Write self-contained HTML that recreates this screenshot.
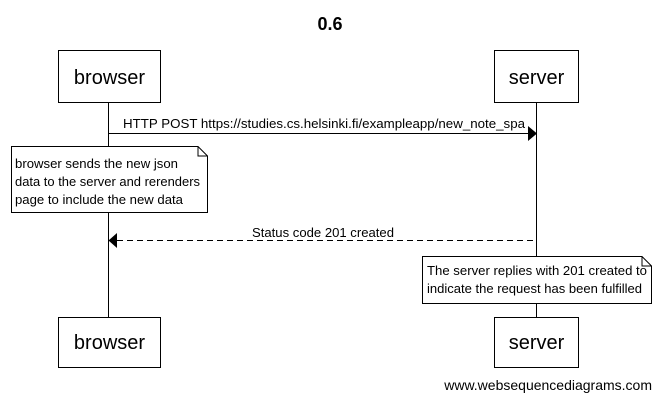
<!DOCTYPE html>
<html><head><meta charset="utf-8"><style>body{margin:0;background:#fff}</style></head><body>
<svg width="661" height="400" xmlns="http://www.w3.org/2000/svg" font-family="Liberation Sans, sans-serif">
<rect width="661" height="400" fill="#fff"/>
<text x="330" y="30" font-size="18" font-weight="bold" text-anchor="middle">0.6</text>
<line x1="108.5" y1="102" x2="108.5" y2="317" stroke="#000"/>
<line x1="536.5" y1="102" x2="536.5" y2="317" stroke="#000"/>
<rect x="58.5" y="50.5" width="102" height="52" fill="#fff" stroke="#000"/>
<text x="109.5" y="84" font-size="20" text-anchor="middle">browser</text>
<rect x="494.5" y="50.5" width="84" height="52" fill="#fff" stroke="#000"/>
<text x="536.5" y="84" font-size="20" text-anchor="middle">server</text>
<rect x="58.5" y="317.5" width="102" height="50" fill="#fff" stroke="#000"/>
<text x="109.5" y="349" font-size="20" text-anchor="middle">browser</text>
<rect x="494.5" y="317.5" width="84" height="50" fill="#fff" stroke="#000"/>
<text x="536.5" y="349" font-size="20" text-anchor="middle">server</text>
<line x1="108.5" y1="133.5" x2="528" y2="133.5" stroke="#000"/>
<polygon points="528,126 537,133.5 528,141" fill="#000"/>
<text x="123" y="128" font-size="13" textLength="402" lengthAdjust="spacingAndGlyphs">HTTP POST https://studies.cs.helsinki.fi/exampleapp/new_note_spa</text>
<path d="M11.5 146.5 H198 L207.5 156 V212.5 H11.5 Z" fill="#fff" stroke="#000"/>
<path d="M198 146.5 V156 H207.5" fill="none" stroke="#000"/>
<text font-size="13"><tspan x="15" y="168" textLength="163" lengthAdjust="spacingAndGlyphs">browser sends the new json</tspan><tspan x="15" y="186" textLength="185" lengthAdjust="spacingAndGlyphs">data to the server and rerenders</tspan><tspan x="15" y="204" textLength="168" lengthAdjust="spacingAndGlyphs">page to include the new data</tspan></text>
<line x1="117" y1="240.5" x2="536.5" y2="240.5" stroke="#000" stroke-dasharray="6,4"/>
<polygon points="117,233 108.5,240.5 117,248" fill="#000"/>
<text x="252" y="237" font-size="13" textLength="142" lengthAdjust="spacingAndGlyphs">Status code 201 created</text>
<path d="M422.5 256.5 H642 L651.5 266 V303.5 H422.5 Z" fill="#fff" stroke="#000"/>
<path d="M642 256.5 V266 H651.5" fill="none" stroke="#000"/>
<text font-size="13"><tspan x="427" y="275" textLength="220" lengthAdjust="spacingAndGlyphs">The server replies with 201 created to</tspan><tspan x="427" y="293" textLength="215" lengthAdjust="spacingAndGlyphs">indicate the request has been fulfilled</tspan></text>
<text x="652" y="390" font-size="14" text-anchor="end">www.websequencediagrams.com</text>
</svg>
</body></html>
